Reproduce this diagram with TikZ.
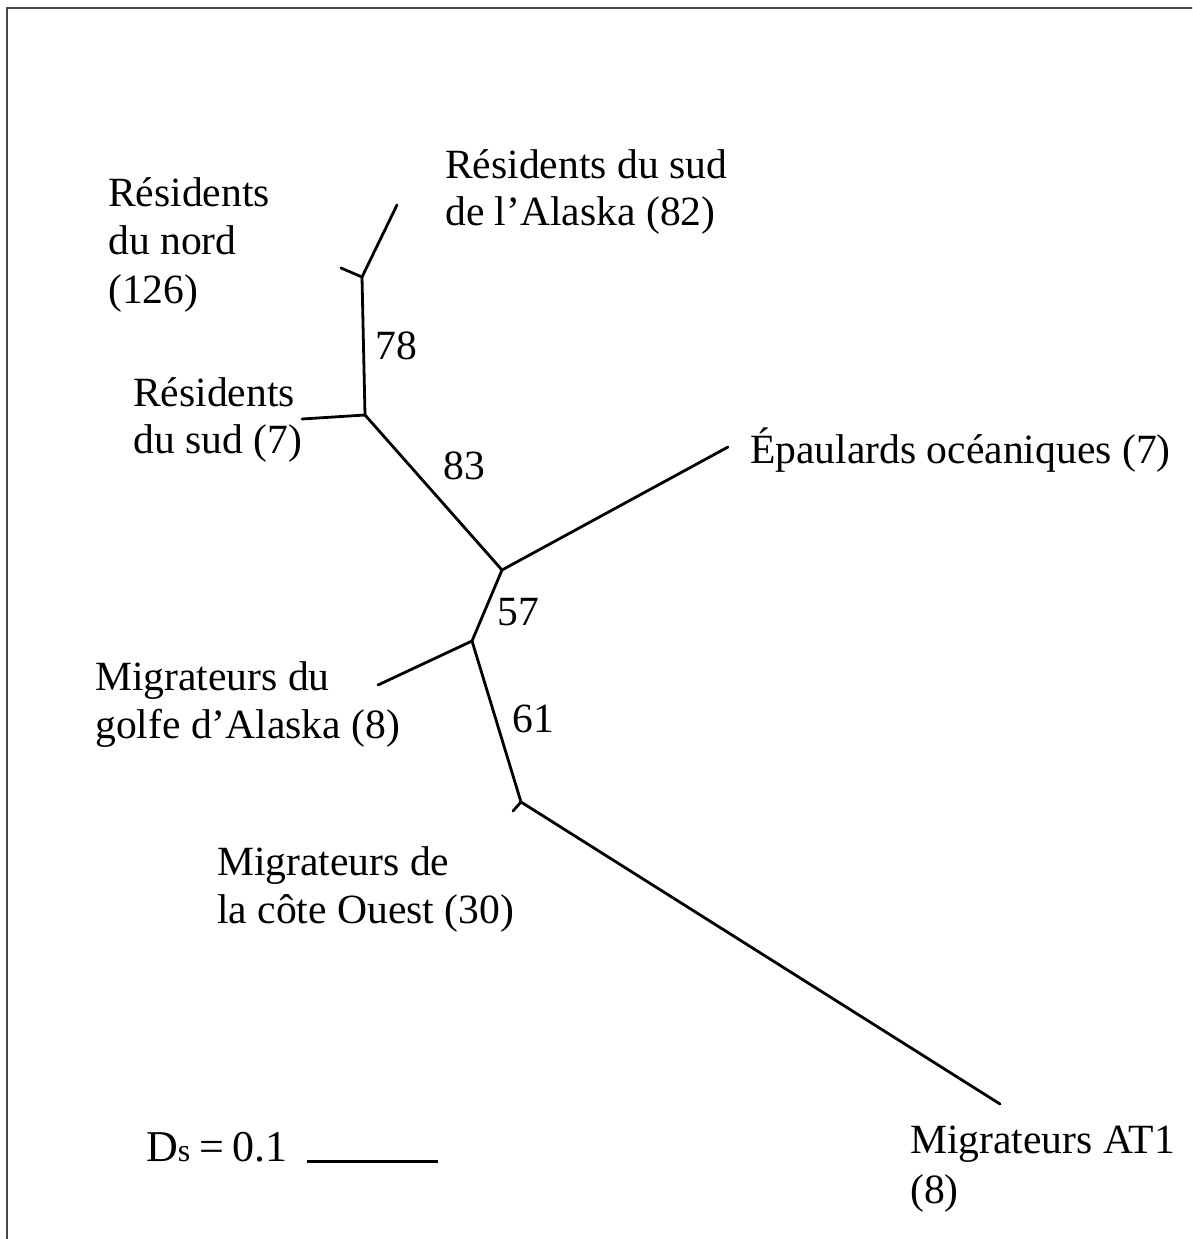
\documentclass[tikz,border=0pt]{standalone}
\usepackage{fontspec}
\setmainfont{Liberation Serif}
\begin{document}
\begin{tikzpicture}[x=1pt,y=-1pt,
  branch/.style={line width=2.8pt,line cap=round,line join=round},
  lbl/.style={anchor=base west,inner sep=0pt,font=\fontsize{41.6}{47}\selectfont},
  frame/.style={draw=black!72,line width=2.8pt}]
\useasboundingbox (0,0) rectangle (1192,1239);
\clip (0,0) rectangle (1192,1239);
\draw[frame] (7,8) rectangle (1200,1250);
% tree points
\coordinate (n1) at (362,277);
\coordinate (sa) at (397,205);
\coordinate (rn) at (341,268);
\coordinate (n2) at (365,415);
\coordinate (rs) at (302,419);
\coordinate (n3) at (502,570);
\coordinate (ep) at (728,447);
\coordinate (n4) at (472,641);
\coordinate (mg) at (378,685);
\coordinate (n5) at (521,802);
\coordinate (mw) at (513,811);
\coordinate (at) at (1000,1104);
% branches
\draw[branch] (sa) -- (n1);
\draw[branch] (rn) -- (n1);
\draw[branch] (n1) -- (n2);
\draw[branch] (rs) -- (n2);
\draw[branch] (n2) -- (n3);
\draw[branch] (ep) -- (n3);
\draw[branch] (n3) -- (n4);
\draw[branch] (mg) -- (n4);
\draw[branch] (n4) -- (n5);
\draw[branch] (mw) -- (n5);
\draw[branch] (n5) -- (at);
% leaf labels
\node[lbl] (t1a) at (445,178) {Résidents du sud};
\node[lbl] (t1b) at (445,225) {de l’Alaska (82)};
\node[lbl] (t2a) at (108,206) {Résidents};
\node[lbl] (t2b) at (108,254) {du nord};
\node[lbl] (t2c) at (108,303) {(126)};
\node[lbl] (t3a) at (133,406) {Résidents};
\node[lbl] (t3b) at (133,453) {du sud (7)};
\node[lbl] (t4) at (750,463) {Épaulards océaniques (7)};
\node[lbl] (t5a) at (95,690) {Migrateurs du};
\node[lbl] (t5b) at (95,738) {golfe d’Alaska (8)};
\node[lbl] (t6a) at (217,875) {Migrateurs de};
\node[lbl] (t6b) at (217,923) {la côte Ouest (30)};
\node[lbl] (t7a) at (910,1153) {Migrateurs AT1};
\node[lbl] (t7b) at (910,1203) {(8)};
% bootstrap values
\node[lbl] (b78) at (375,359) {78};
\node[lbl] (b83) at (443,479) {83};
\node[lbl] (b57) at (497,625) {57};
\node[lbl] (b61) at (512,732) {61};
% scale
\node[anchor=base west,inner sep=0pt,font=\fontsize{44}{48}\selectfont] (ds) at (146,1161)
  {D{\fontsize{32}{32}\selectfont s}\hspace{0.2em}=\hspace{0.2em}0.1};
\coordinate (s1) at (307,1161);
\coordinate (s2) at (438,1161);
\draw[line width=3pt] (s1) -- (s2);
\end{tikzpicture}
\end{document}
